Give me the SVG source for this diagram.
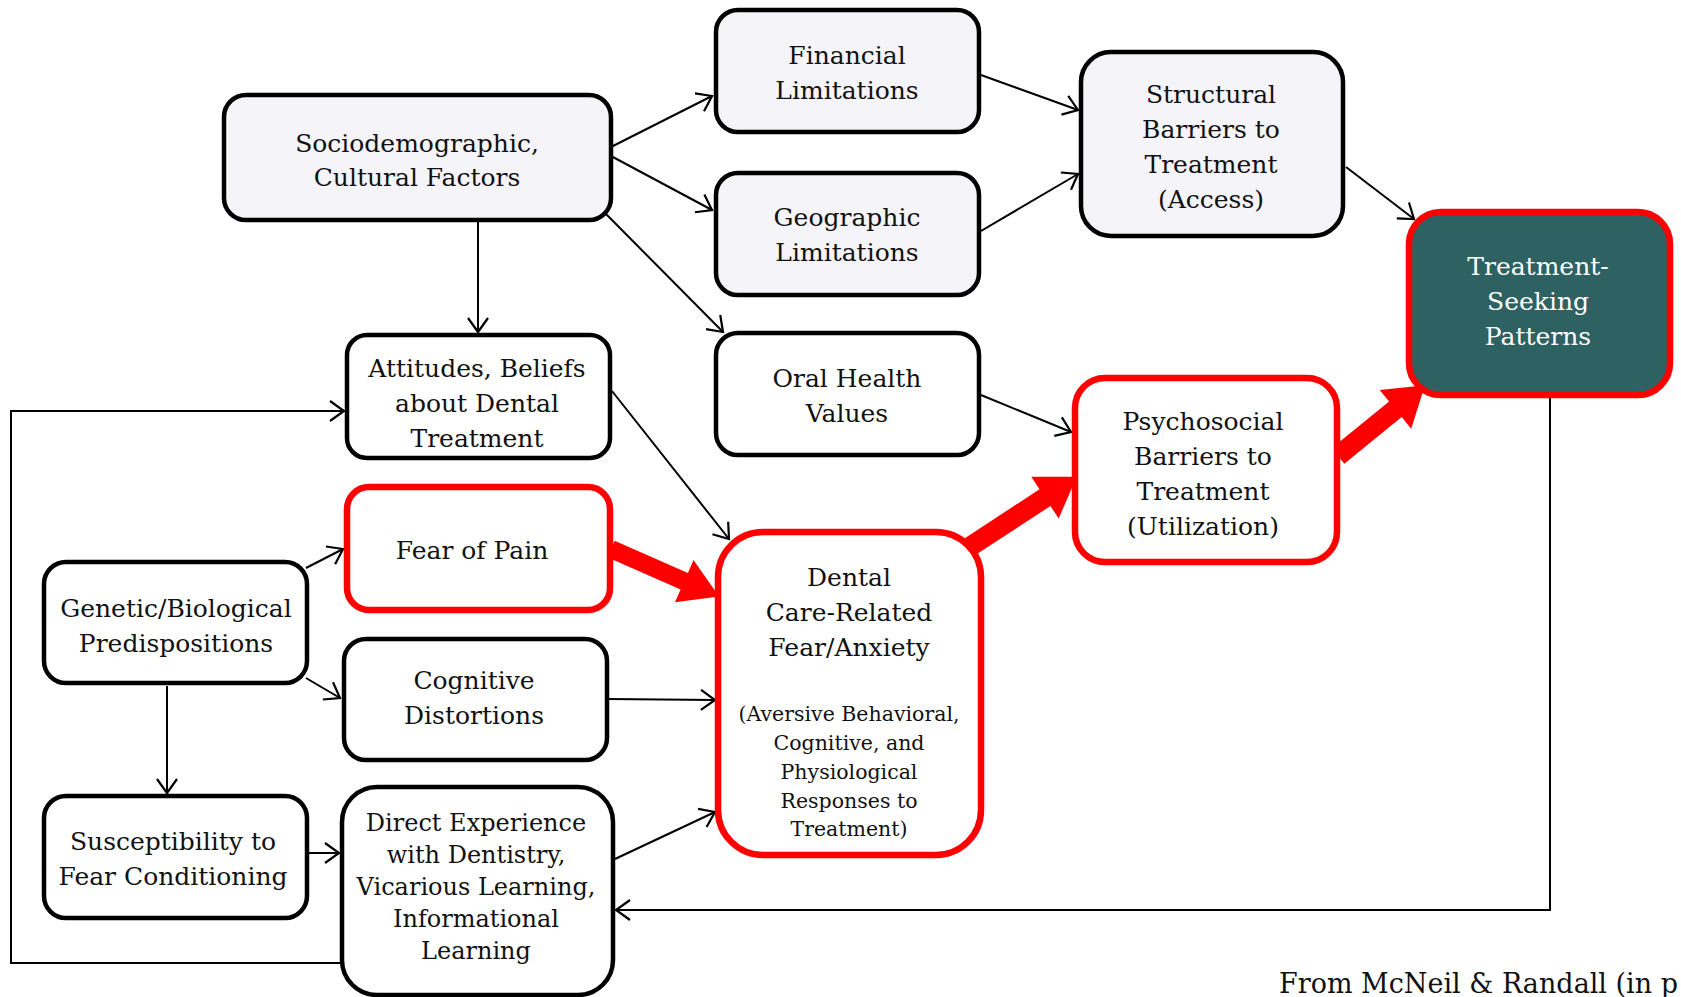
<svg xmlns="http://www.w3.org/2000/svg" width="1681" height="997" viewBox="0 0 1681 997">
<defs>
<style>
.box{fill:#ffffff;stroke:#000;stroke-width:4.5}
.lav{fill:#F5F4F9}
.red{stroke:#FF0000;stroke-width:6.5}
.teal{fill:#2E6161}
.t{font-family:"DejaVu Serif","Liberation Serif",serif;font-size:25px;fill:#111;text-anchor:middle}
.s{font-size:20.5px}
.n{font-size:24px}
.w{fill:#ffffff}
.c{fill:none;stroke:#000;stroke-width:2}
.big{fill:#FF0000}
</style>
<marker id="a" markerUnits="userSpaceOnUse" markerWidth="20" markerHeight="24" viewBox="-16 -12 20 24" refX="0" refY="0" orient="auto">
<path d="M-14,-10 L0,0 L-14,10" fill="none" stroke="#000" stroke-width="2.2"/>
</marker>
</defs>
<rect width="1681" height="997" fill="#ffffff"/>

<g id="connectors">
<line class="c" x1="611" y1="147" x2="712" y2="96" marker-end="url(#a)"/>
<line class="c" x1="611" y1="156" x2="712" y2="210" marker-end="url(#a)"/>
<line class="c" x1="606" y1="214" x2="723" y2="332" marker-end="url(#a)"/>
<line class="c" x1="478" y1="221" x2="478" y2="332" marker-end="url(#a)"/>
<line class="c" x1="981" y1="75" x2="1078" y2="110" marker-end="url(#a)"/>
<line class="c" x1="981" y1="231" x2="1078" y2="174" marker-end="url(#a)"/>
<line class="c" x1="1346" y1="167" x2="1414" y2="219" marker-end="url(#a)"/>
<line class="c" x1="981" y1="395" x2="1071" y2="432" marker-end="url(#a)"/>
<line class="c" x1="612" y1="391" x2="729" y2="539" marker-end="url(#a)"/>
<line class="c" x1="306" y1="568" x2="343" y2="549" marker-end="url(#a)"/>
<line class="c" x1="306" y1="678" x2="340" y2="698" marker-end="url(#a)"/>
<line class="c" x1="167" y1="686" x2="167" y2="793" marker-end="url(#a)"/>
<line class="c" x1="608" y1="699" x2="715" y2="700" marker-end="url(#a)"/>
<line class="c" x1="309" y1="853" x2="339" y2="853" marker-end="url(#a)"/>
<line class="c" x1="615" y1="859" x2="715" y2="812" marker-end="url(#a)"/>
<polyline class="c" points="1550,397 1550,910 616,910" marker-end="url(#a)"/>
<polyline class="c" points="341,963 11,963 11,411 344,411" marker-end="url(#a)"/>
<g transform="translate(611,549) rotate(23.7)"><path class="big" d="M0,-9 L80,-9 L80,-23 L118,0 L80,23 L80,9 L0,9 Z"/></g>
<g transform="translate(968,548) rotate(-33.2)"><path class="big" d="M0,-10 L92,-10 L92,-25 L130,0 L92,25 L92,10 L0,10 Z"/></g>
<g transform="translate(1338,456) rotate(-39.1)"><path class="big" d="M0,-10 L74,-10 L74,-25 L112,0 L74,25 L74,10 L0,10 Z"/></g>
</g>

<g id="sociodemographic">
<rect class="box lav" x="224" y="95" width="387" height="125" rx="22"/>
<text class="t" x="417" y="152">Sociodemographic,</text>
<text class="t" x="417" y="186">Cultural Factors</text>
</g>
<g id="financial">
<rect class="box lav" x="716" y="10" width="263" height="122" rx="22"/>
<text class="t" x="847" y="64">Financial</text>
<text class="t" x="847" y="99">Limitations</text>
</g>
<g id="geographic">
<rect class="box lav" x="716" y="173" width="263" height="122" rx="22"/>
<text class="t" x="847" y="226">Geographic</text>
<text class="t" x="847" y="261">Limitations</text>
</g>
<g id="structural">
<rect class="box lav" x="1081" y="52" width="262" height="184" rx="30"/>
<text class="t" x="1211" y="103">Structural</text>
<text class="t" x="1211" y="138">Barriers to</text>
<text class="t" x="1211" y="173">Treatment</text>
<text class="t" x="1211" y="208">(Access)</text>
</g>
<g id="treatment-seeking">
<rect class="box teal red" x="1409" y="212" width="261" height="183" rx="32"/>
<text class="t w" x="1538" y="275">Treatment-</text>
<text class="t w" x="1538" y="310">Seeking</text>
<text class="t w" x="1538" y="345">Patterns</text>
</g>
<g id="attitudes">
<rect class="box" x="347" y="335" width="263" height="123" rx="20"/>
<text class="t" x="477" y="377">Attitudes, Beliefs</text>
<text class="t" x="477" y="412">about Dental</text>
<text class="t" x="477" y="447">Treatment</text>
</g>
<g id="oral-health">
<rect class="box" x="716" y="333" width="263" height="122" rx="22"/>
<text class="t" x="847" y="387">Oral Health</text>
<text class="t" x="847" y="422">Values</text>
</g>
<g id="psychosocial">
<rect class="box red" x="1075" y="378" width="262" height="184" rx="30"/>
<text class="t" x="1203" y="430">Psychosocial</text>
<text class="t" x="1203" y="465">Barriers to</text>
<text class="t" x="1203" y="500">Treatment</text>
<text class="t" x="1203" y="535">(Utilization)</text>
</g>
<g id="fear-of-pain">
<rect class="box red" x="347" y="487" width="263" height="123" rx="22"/>
<text class="t" x="472" y="559">Fear of Pain</text>
</g>
<g id="genetic">
<rect class="box" x="44" y="562" width="263" height="121" rx="22"/>
<text class="t" x="176" y="617">Genetic/Biological</text>
<text class="t" x="176" y="652">Predispositions</text>
</g>
<g id="cognitive">
<rect class="box" x="344" y="639" width="263" height="121" rx="22"/>
<text class="t" x="474" y="689">Cognitive</text>
<text class="t" x="474" y="724">Distortions</text>
</g>
<g id="dental-fear">
<rect class="box red" x="718" y="532" width="263" height="323" rx="45"/>
<text class="t" x="849" y="586">Dental</text>
<text class="t" x="849" y="621">Care-Related</text>
<text class="t" x="849" y="656">Fear/Anxiety</text>
<text class="t s" x="849" y="721">(Aversive Behavioral,</text>
<text class="t s" x="849" y="750">Cognitive, and</text>
<text class="t s" x="849" y="779">Physiological</text>
<text class="t s" x="849" y="808">Responses to</text>
<text class="t s" x="849" y="836">Treatment)</text>
</g>
<g id="susceptibility">
<rect class="box" x="44" y="796" width="263" height="122" rx="22"/>
<text class="t" x="173" y="850">Susceptibility to</text>
<text class="t" x="173" y="885">Fear Conditioning</text>
</g>
<g id="direct-experience">
<rect class="box" x="342" y="787" width="271" height="208" rx="35"/>
<text class="t n" x="476" y="831">Direct Experience</text>
<text class="t n" x="476" y="863">with Dentistry,</text>
<text class="t n" x="476" y="895">Vicarious Learning,</text>
<text class="t n" x="476" y="927">Informational</text>
<text class="t n" x="476" y="959">Learning</text>
</g>
<text class="t" x="1279" y="993" style="text-anchor:start;font-size:27px">From McNeil &amp; Randall (in p</text>
</svg>
